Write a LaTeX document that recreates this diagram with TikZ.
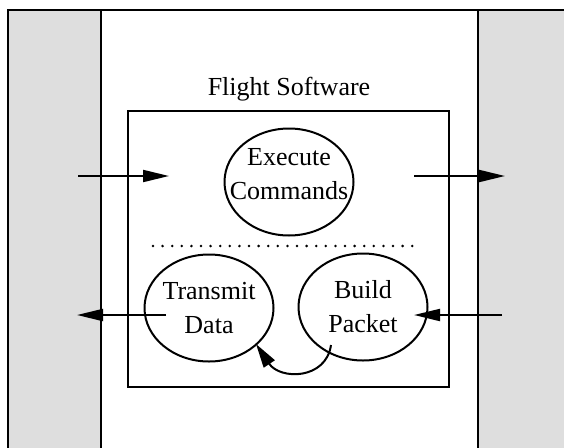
\documentclass[tikz,border=0pt]{standalone}
\usepackage{fontspec}
\setmainfont{Liberation Serif}
\usetikzlibrary{arrows.meta,shapes.geometric}
\begin{document}
\begin{tikzpicture}[x=1pt,y=-1pt,
  frameline/.style={line width=2.4pt},
  boxline/.style={line width=2pt},
  process/.style={draw,ellipse,line width=2pt,minimum width=129pt,minimum height=107pt,inner sep=0pt},
  proctext/.style={align=center,inner sep=0pt,font=\fontsize{26}{34}\selectfont},
  flow/.style={line width=2pt,-{Triangle[length=26pt,width=12pt]}},
  sep/.style={line width=2.8pt,line cap=round,dash pattern=on 0pt off 9.6pt}]
\useasboundingbox (0,0) rectangle (564,447);
% outer frame with the two grey side columns
\fill[white] (0,0) rectangle (564,447);
\fill[gray!26] (8,10) rectangle (101,460);
\fill[gray!26] (478,10) rectangle (580,460);
\draw[frameline] (8,460) -- (8,10) -- (580,10);
\draw[frameline] (101,10) -- (101,460);
\draw[frameline] (478,10) -- (478,460);
% flight software box
\node[font=\fontsize{26}{30}\selectfont] (title) at (289,89) {Flight Software};
\draw[boxline] (128,111) rectangle (449,387);
\node[process] (exec) at (289,182) {};
\node[process] (xmit) at (209,308) {};
\node[process] (build) at (363,307) {};
\node[proctext] (execT) at ([yshift=8pt]exec.center) {Execute\\Commands};
\node[proctext] (xmitT) at (xmit.center) {Transmit\\Data};
\node[proctext] (buildT) at (build.center) {Build\\Packet};
% separator
\coordinate (sepL) at (153,246);
\coordinate (sepR) at (421,246);
\draw[sep] (sepL) -- (sepR);
% external flows
\coordinate (inA) at (78,176);
\coordinate (inB) at (169,176);
\coordinate (outA) at (414,176);
\coordinate (outB) at (505,176);
\coordinate (txA) at (166,315);
\coordinate (txB) at (77,315);
\coordinate (rxA) at (502,315);
\coordinate (rxB) at (414,315);
\draw[flow] (inA) -- (inB);
\draw[flow] (outA) -- (outB);
\draw[flow] (txA) -- (txB);
\draw[flow] (rxA) -- (rxB);
% packet handed over for transmission
\coordinate (bp) at (331,345);
\coordinate (td) at (256,344);
\draw[line width=2pt,-{Triangle[length=24pt,width=13pt]}] (bp) .. controls (326,380) and (280,380) .. (td);
\end{tikzpicture}
\end{document}
